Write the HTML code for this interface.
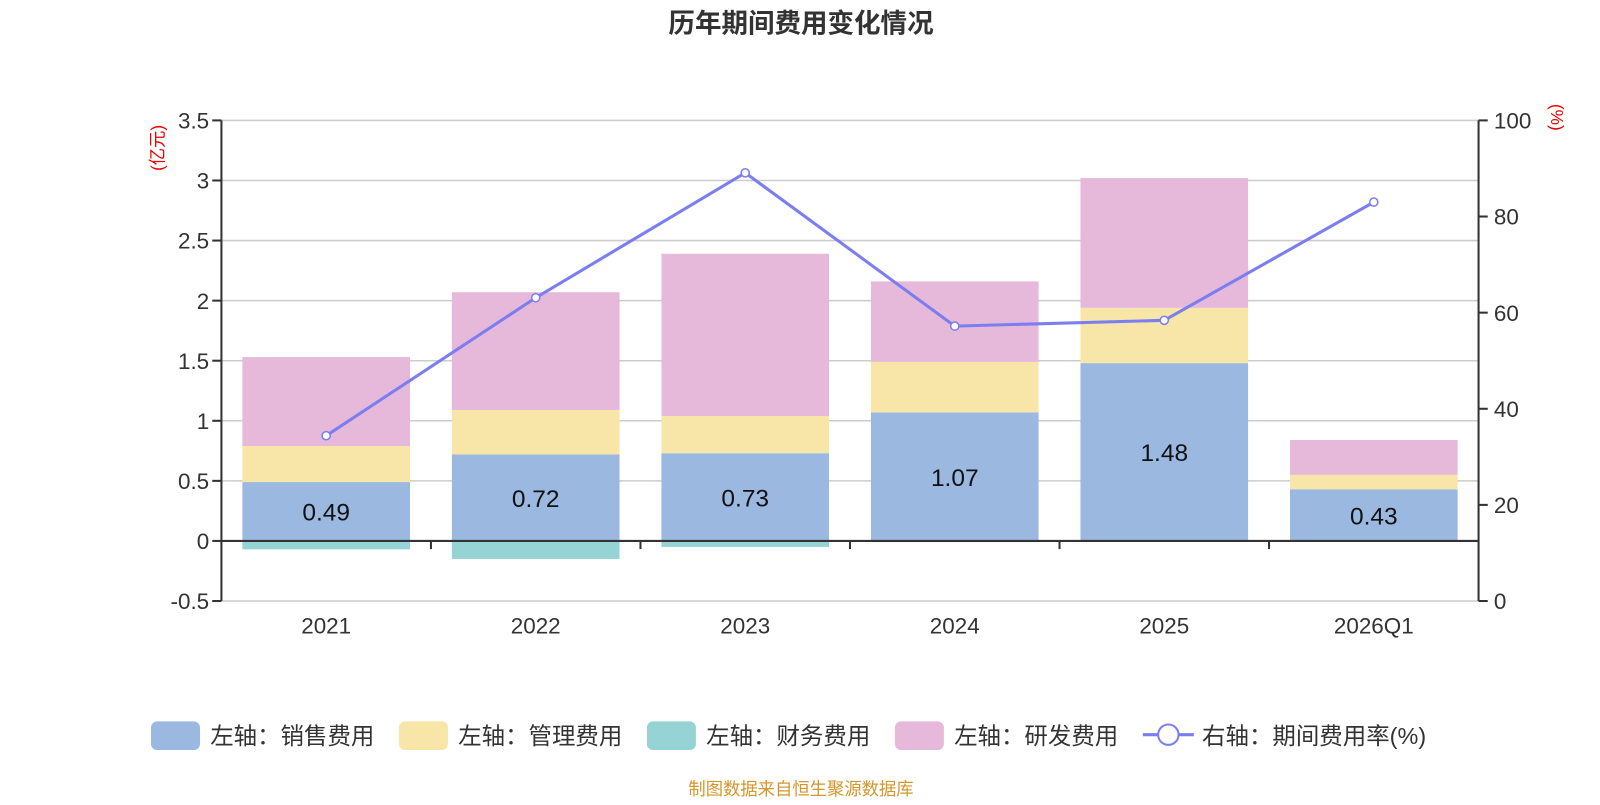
<!DOCTYPE html>
<html><head><meta charset="utf-8">
<style>
body{margin:0;background:#fff;font-family:"Liberation Sans","Noto Sans CJK SC",sans-serif;}
svg text{font-family:"Liberation Sans","Noto Sans CJK SC",sans-serif;}
</style></head>
<body>
<svg id="chart" width="1600" height="800" xmlns="http://www.w3.org/2000/svg">
<g transform="scale(1.0204)">
<text x="785" y="32" text-anchor="middle" font-size="26" font-weight="bold" fill="#333">历年期间费用变化情况</text>
<text transform="translate(160,145) rotate(-90)" text-anchor="middle" font-size="17" fill="#e00">(亿元)</text>
<text transform="translate(1520,115) rotate(90)" text-anchor="middle" font-size="17" fill="#e00">(%)</text>
<g id="grid"></g><g id="bars"></g><g id="axes"></g><g id="line"></g>
<g id="legend" font-size="23" fill="#333">
<rect x="148" y="707" width="48" height="28" rx="6" fill="#9bb8e0"/>
<text x="206" y="729">左轴：销售费用</text>
<rect x="391" y="707" width="48" height="28" rx="6" fill="#f7e6a7"/>
<text x="449" y="729">左轴：管理费用</text>
<rect x="634" y="707" width="48" height="28" rx="6" fill="#96d3d4"/>
<text x="692" y="729">左轴：财务费用</text>
<rect x="877" y="707" width="48" height="28" rx="6" fill="#e6b8d9"/>
<text x="935" y="729">左轴：研发费用</text>
<line x1="1120" y1="720" x2="1170" y2="720" stroke="#7b7ef0" stroke-width="3"/>
<circle cx="1145" cy="720" r="10" fill="#fff" stroke="#7b7ef0" stroke-width="2"/>
<text x="1178" y="729">右轴：期间费用率(%)</text>
</g>
<text x="785" y="779" text-anchor="middle" font-size="17" fill="#d4962a">制图数据来自恒生聚源数据库</text>
</g>
</svg>
<script>
const categories=["2021","2022","2023","2024","2025","2026Q1"];
const sales=[0.49,0.72,0.73,1.07,1.48,0.43];
const admin=[0.30,0.37,0.31,0.42,0.46,0.12];
const finance=[-0.07,-0.15,-0.05,-0.01,-0.005,0];
const rd=[0.74,0.98,1.35,0.67,1.08,0.29];
const rate=[34.4,63.1,89.1,57.2,58.4,83.0];
const leftTicks=[-0.5,0,0.5,1,1.5,2,2.5,3,3.5];
const rightTicks=[0,20,40,60,80,100];

const NS="http://www.w3.org/2000/svg";
const X0=217,X1=1449,YT=118,YB=589;
const yL=v=>YB-(v+0.5)/4*(YB-YT);
const yR=v=>YB-v/100*(YB-YT);
const bw=(X1-X0)/categories.length;
const xc=i=>X0+bw*(i+0.5);
function mk(tag,attrs,parent){const e=document.createElementNS(NS,tag);for(const k in attrs)e.setAttribute(k,attrs[k]);document.getElementById(parent).appendChild(e);return e;}
leftTicks.forEach(t=>{
  const y=yL(t);
  const g=mk('line',{x1:X0,x2:X1,y1:y,y2:y,stroke:'#ccc','stroke-width':1.5},'grid');
  
  
  mk('line',{x1:X0-9,x2:X0,y1:y,y2:y,stroke:'#333','stroke-width':2},'axes');
  const tx=mk('text',{x:X0-12,y:y+8,'text-anchor':'end','font-size':22,fill:'#333'},'axes');
  tx.textContent=String(t);
  
  
});
rightTicks.forEach(t=>{
  const y=yR(t);
  mk('line',{x1:X1,x2:X1+9,y1:y,y2:y,stroke:'#333','stroke-width':2},'axes');
  const tx=mk('text',{x:X1+15,y:y+8,'font-size':22,fill:'#333'},'axes');
  tx.textContent=String(t);
  
  
});
const la=mk('line',{x1:X0,x2:X0,y1:YT,y2:YB,stroke:'#333','stroke-width':2},'axes');


const ra=mk('line',{x1:X1,x2:X1,y1:YT,y2:YB,stroke:'#333','stroke-width':2},'axes');


const xa=mk('line',{x1:X0,x2:X1,y1:yL(0),y2:yL(0),stroke:'#333','stroke-width':2},'axes');


for(let i=1;i<categories.length;i++){mk('line',{x1:X0+bw*i,x2:X0+bw*i,y1:yL(0),y2:yL(0)+8,stroke:'#333','stroke-width':2},'axes');}
categories.forEach((c,i)=>{
  const tx=mk('text',{x:xc(i),y:621,'text-anchor':'middle','font-size':22,fill:'#333'},'axes');
  tx.textContent=c;
  
  
  const w=bw*0.8,x=xc(i)-w/2;
  let base=0;
  [[sales,'#9bb8e0','bar-sales'],[admin,'#f7e6a7','bar-admin'],[rd,'#e6b8d9','bar-rd']].forEach(([arr,col,nm])=>{
    const v=arr[i];
    const r=mk('rect',{x:x,width:w,y:yL(base+v),height:yL(base)-yL(base+v),fill:col},'bars');
    
    
    base+=v;
  });
  const f=finance[i];
  const fr=mk('rect',{x:x,width:w,y:yL(0),height:Math.max(0,yL(f)-yL(0)),fill:'#96d3d4'},'bars');
  
  
  const lb=mk('text',{x:xc(i),y:(yL(0)+yL(sales[i]))/2+9,'text-anchor':'middle','font-size':24,fill:'#111'},'bars');
  lb.textContent=sales[i].toFixed(2);
  
  
});
const pts=rate.map((v,i)=>xc(i)+','+yR(v)).join(' ');
const pl=mk('polyline',{points:pts,fill:'none',stroke:'#7b7ef0','stroke-width':3},'line');


rate.forEach((v,i)=>{
  const c=mk('circle',{cx:xc(i),cy:yR(v),r:4,fill:'#fff',stroke:'#7b7ef0','stroke-width':1.5},'line');
  
  
});
</script>
</body></html>
